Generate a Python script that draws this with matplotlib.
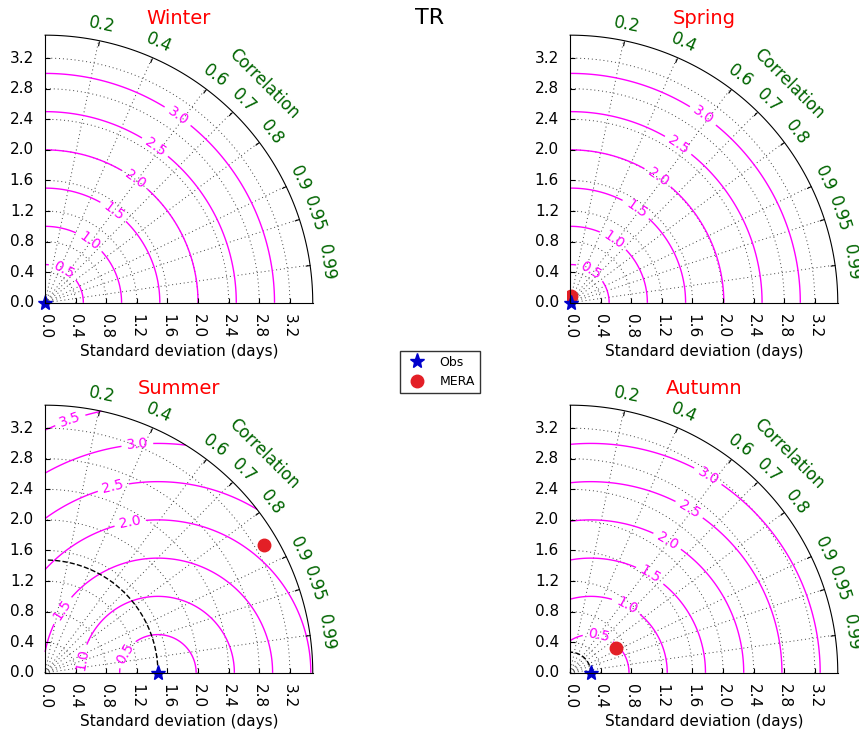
import numpy as np
import matplotlib
matplotlib.use('Agg')
import matplotlib.pyplot as plt
import matplotlib.transforms as mtransforms
from matplotlib.projections import PolarAxes
import mpl_toolkits.axisartist.floating_axes as FA
import mpl_toolkits.axisartist.grid_finder as GF

# taylor diagram data for the four seasons (TR)
seasons = ['Winter', 'Spring', 'Summer', 'Autumn']
obs_std = [0.0, 0.01, 1.475, 0.27]
mera_std = [np.nan, 0.09, 3.32, 0.685]
mera_corr = [np.nan, 0.14, 0.864, 0.876]
rms_levels = [[0.5, 1.0, 1.5, 2.0, 2.5, 3.0],
              [0.5, 1.0, 1.5, 2.0, 2.5, 3.0],
              [0.5, 1.0, 1.5, 2.0, 2.5, 3.0, 3.5],
              [0.5, 1.0, 1.5, 2.0, 2.5, 3.0]]
corr_ticks = [0.2, 0.4, 0.6, 0.7, 0.8, 0.9, 0.95, 0.99]
std_ticks = [0.0, 0.4, 0.8, 1.2, 1.6, 2.0, 2.4, 2.8, 3.2]
smax = 3.5

# where the contour labels sit (x, y in std units)
label_pos = [[(0.22, 0.39), (0.59, 0.82), (0.89, 1.19), (1.17, 1.61), (1.44, 2.04), (1.74, 2.45)],
             [(0.27, 0.42), (0.56, 0.81), (0.85, 1.21), (1.14, 1.63), (1.44, 2.10), (1.74, 2.45)],
             [(1.02, 0.27), (0.48, 0.17), (0.22, 0.82), (1.11, 1.97), (0.89, 2.43), (1.20, 3.05), (0.33, 3.30)],
             [(0.37, 0.48), (0.68, 0.77), (0.98, 1.17), (1.28, 1.74), (1.59, 2.19), (1.89, 2.72)]]

plt.rcParams['font.family'] = 'DejaVu Sans'

fig = plt.figure(figsize=(8.59, 7.33), dpi=100)

# axes rects (left, bottom, width, height) in figure fraction
rects = [[0.0494, 0.5832, 0.3178, 0.3725],
         [0.6606, 0.5832, 0.3178, 0.3725],
         [0.0494, 0.0784, 0.3178, 0.3725],
         [0.6606, 0.0784, 0.3178, 0.3725]]

handles = None
for i, season in enumerate(seasons):
    tr = PolarAxes.PolarTransform()
    tlocs = np.arccos(corr_ticks)
    gl1 = GF.FixedLocator(tlocs)
    tf1 = GF.DictFormatter(dict(zip(tlocs, [str(c) for c in corr_ticks])))
    gl2 = GF.FixedLocator(std_ticks)
    tf2 = GF.DictFormatter(dict(zip(std_ticks, ['%.1f' % s for s in std_ticks])))
    ghelper = FA.GridHelperCurveLinear(tr, extremes=(0, np.pi / 2, 0, smax),
                                       grid_locator1=gl1, tick_formatter1=tf1,
                                       grid_locator2=gl2, tick_formatter2=tf2)
    ax = FA.FloatingAxes(fig, rects[i], grid_helper=ghelper)
    fig.add_axes(ax)

    # correlation arc
    ax.axis["top"].set_axis_direction("bottom")
    ax.axis["top"].toggle(ticklabels=True, label=True)
    ax.axis["top"].major_ticklabels.set_axis_direction("top")
    ax.axis["top"].label.set_axis_direction("top")
    ax.axis["top"].label.set_text("Correlation")
    ax.axis["top"].label.set_color('darkgreen')
    ax.axis["top"].label.set_fontsize(12)
    ax.axis["top"].label.set_pad(6)
    ax.axis["top"].major_ticklabels.set_color('darkgreen')
    ax.axis["top"].major_ticklabels.set_fontsize(12)
    ax.axis["top"].major_ticklabels.set_pad(8)

    # x axis (std) - tick labels drawn vertically below
    ax.axis["left"].set_axis_direction("bottom")
    ax.axis["left"].toggle(ticklabels=False)
    ax.axis["left"].label.set_text("Standard deviation (days)")
    ax.axis["left"].label.set_fontsize(11)
    ax.axis["left"].label.set_pad(30)
    off = mtransforms.offset_copy(ax.transData, fig=fig, y=-11, units='dots')
    for s in std_ticks:
        ax.text(s, 0, '%.1f' % s, transform=off, rotation=-90, ha='center', va='top',
                fontsize=11)

    # y axis (std)
    ax.axis["right"].set_axis_direction("top")
    ax.axis["right"].toggle(ticklabels=True)
    ax.axis["right"].major_ticklabels.set_axis_direction("left")
    ax.axis["right"].major_ticklabels.set_fontsize(11)
    ax.axis["right"].major_ticklabels.set_pad(8)
    ax.axis["bottom"].set_visible(False)

    ax.grid(True)
    ax.gridlines.set_linestyle((0, (1, 3)))
    ax.gridlines.set_color('0.25')
    ax.gridlines.set_linewidth(0.7)
    ax.set_title(season, color='r', fontsize=14)

    aux = ax.get_aux_axes(tr)

    # rms contours around the reference
    rs, ts = np.meshgrid(np.linspace(0, smax, 200), np.linspace(0, np.pi / 2, 200))
    rms = np.sqrt(obs_std[i] ** 2 + rs ** 2 - 2 * obs_std[i] * rs * np.cos(ts))
    cs = aux.contour(ts, rs, rms, rms_levels[i], colors='magenta', linewidths=1.0)
    manual = [(np.arctan2(y, x), np.hypot(x, y)) for x, y in label_pos[i]]
    aux.clabel(cs, inline=1, fontsize=10, fmt='%.1f', manual=manual)

    # reference std arc
    t = np.linspace(0, np.pi / 2, 100)
    aux.plot(t, np.zeros_like(t) + obs_std[i], 'k--', lw=1)

    l2, = aux.plot(np.arccos(mera_corr[i]), mera_std[i], 'o', color='#e31f26',
                   markersize=9, markeredgecolor='#e31f26', label='MERA')
    l1, = aux.plot(0, obs_std[i], '*', color='#0000cc', markersize=11,
                   label='Obs', clip_on=False)
    handles = [l1, l2]

fig.text(0.5, 0.975, 'TR', ha='center', va='center', fontsize=16)
fig.legend(handles, ['Obs', 'MERA'], loc='center', bbox_to_anchor=(0.512, 0.4925),
           numpoints=1, fontsize=9, fancybox=False, edgecolor='k')

fig.savefig('out.png', dpi=100)
